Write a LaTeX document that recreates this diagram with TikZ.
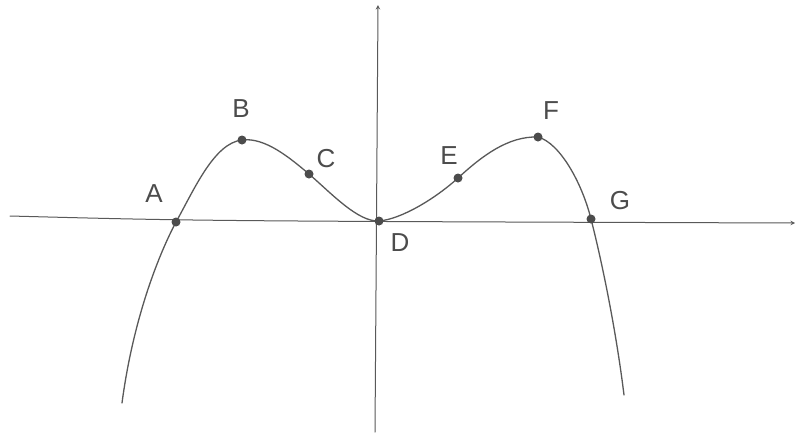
\documentclass[tikz,border=0pt]{standalone}
\usepackage{fontspec}
\setmainfont{Liberation Sans}
\begin{document}
\begin{tikzpicture}[x=1pt,y=-1pt,
  pen/.style={draw=black!65,line width=1.3pt,line cap=round},
  dot/.style={circle,fill=black!70,inner sep=0pt,minimum size=9pt},
  lbl/.style={text=black!70,font=\fontsize{26}{26}\selectfont}]
\fill[white] (0,0) rectangle (795,432);
\useasboundingbox (0,0) rectangle (795,432);
% axes
\coordinate (xl) at (10,216);
\coordinate (xr) at (795,223);
\coordinate (yb) at (375,432);
\coordinate (yt) at (378,5);
\draw[pen,line width=1pt,->,>=stealth] (xl) .. controls (200,221) .. (xr);
\draw[pen,line width=1pt,->,>=stealth] (yb) -- (yt);
% curve points
\coordinate (S) at (122,403);
\coordinate (A) at (176,222);
\coordinate (B) at (242,140);
\coordinate (C) at (309,174);
\coordinate (D) at (379,221);
\coordinate (E) at (458,178);
\coordinate (F) at (538,137);
\coordinate (G) at (591,219);
\coordinate (T) at (624,395);
\draw[pen] (S) .. controls (133,320) and (158,256) .. (A)
  .. controls (194,190) and (214,143) .. (B)
  .. controls (265,137) and (290,158) .. (C)
  .. controls (332,194) and (358,222) .. (D)
  .. controls (402,219) and (436,198) .. (E)
  .. controls (482,156) and (508,136) .. (F)
  .. controls (560,143) and (582,183) .. (G)
  .. controls (602,262) and (616,330) .. (T);
% dots
\foreach \p in {A,B,C,D,E,F,G} \node[dot] (d\p) at (\p) {};
% labels
\node[lbl] (lA) at (154,194) {A};
\node[lbl] (lB) at (241,109) {B};
\node[lbl] (lC) at (326,159) {C};
\node[lbl] (lD) at (400,243) {D};
\node[lbl] (lE) at (449,156) {E};
\node[lbl] (lF) at (551,111) {F};
\node[lbl] (lG) at (620,201) {G};
\end{tikzpicture}
\end{document}
